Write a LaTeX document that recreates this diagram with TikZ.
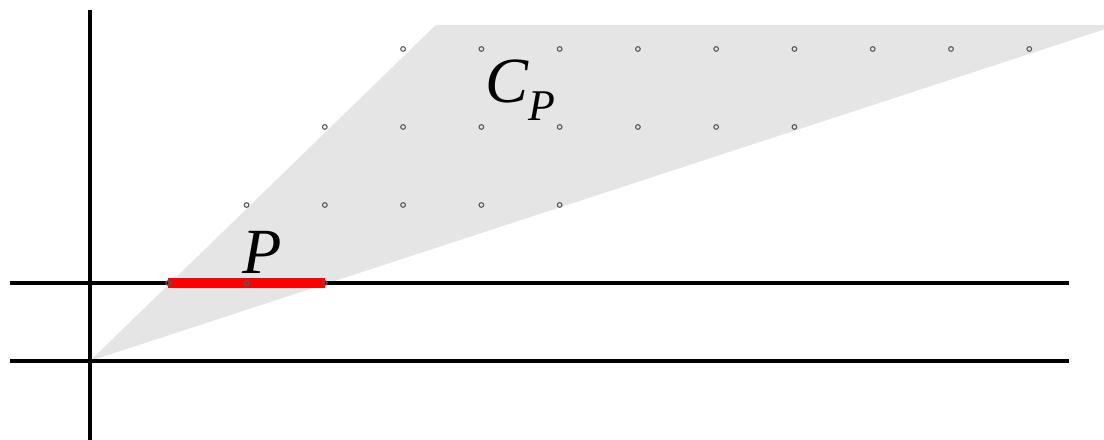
\documentclass[tikz,border=0pt]{standalone}
\usepackage{fontspec}
\setmainfont{Liberation Serif}
\definecolor{conegray}{gray}{0.9}
\begin{document}
\begin{tikzpicture}[x=1.0035cm,y=1cm,
  axis/.style={line width=1.6pt,black},
  lattice/.style={draw=black!65,line width=0.4pt},
  bigtext/.style={font=\fontsize{23.5}{26}\selectfont\itshape, inner sep=0pt}]
\useasboundingbox (-1.15,-1.013) rectangle (12.955,4.628);
% cone
\coordinate (O) at (0,0);
\coordinate (T1) at (4.42,4.31);
\coordinate (T2) at (12.955,4.31);
\coordinate (T3) at (12.955,4.25);
\fill[conegray] (O) -- (T1) -- (T2) -- (T3) -- cycle;
% axes
\coordinate (h1a) at (-1.022,0);
\coordinate (h1b) at (12.51,0);
\coordinate (h2a) at (-1.022,1);
\coordinate (h2b) at (12.51,1);
\coordinate (va) at (0,4.5);
\coordinate (vb) at (0,-1.013);
\draw[axis] (h1a) -- (h1b);
\draw[axis] (h2a) -- (h2b);
\draw[axis] (va) -- (vb);
% segment P
\coordinate (p1) at (1,1);
\coordinate (p2) at (3,1);
\draw[red,line width=0.12cm] (p1) -- (p2);
% lattice points
\foreach \y in {1,...,4}{
  \pgfmathtruncatemacro{\xmax}{3*\y}
  \foreach \x in {\y,...,\xmax}{
    \draw[lattice] (\x,\y) circle (0.03);
  }
}
% labels
\node[bigtext] (P) at (2.2,1.39) {P};
\node[bigtext] (CP) at (5.5,3.47) {C\raisebox{-0.28em}{\fontsize{16}{16}\selectfont\itshape P}};
\end{tikzpicture}
\end{document}
